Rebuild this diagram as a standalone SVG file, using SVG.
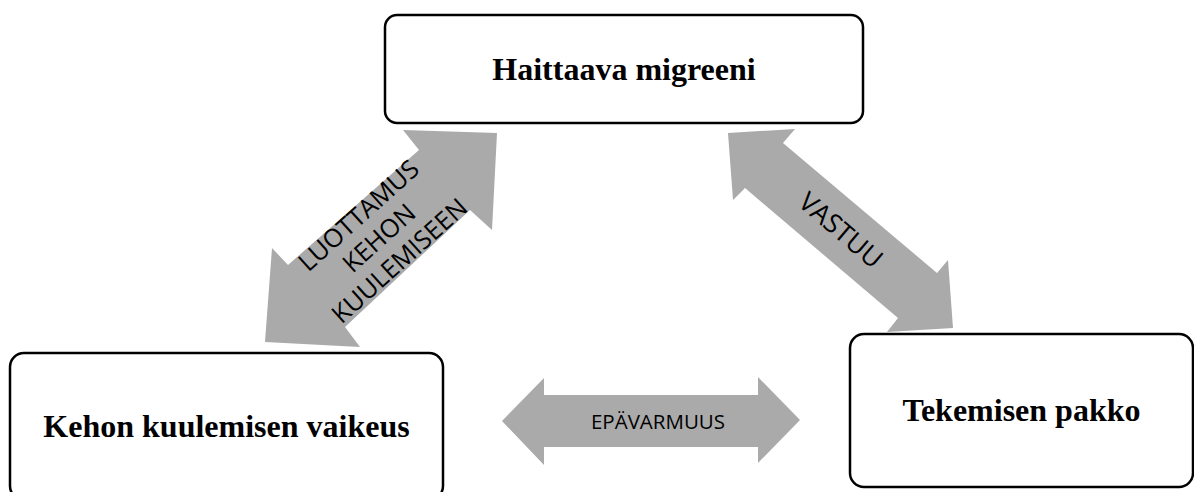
<svg xmlns="http://www.w3.org/2000/svg" width="1194" height="492" viewBox="0 0 1194 492">
<style>
.box{fill:#fff;stroke:#000;stroke-width:2.5}
.bt{font-family:"Liberation Serif","Times New Roman",serif;font-weight:bold;font-size:32px;fill:#000;text-anchor:middle}
.arr{fill:#aaaaaa;stroke:none}
.at{font-family:"Open Sans","Noto Sans",sans-serif;fill:#000;text-anchor:middle}
</style>
<rect width="1194" height="492" fill="#fff"/>
<g id="connectors">
  <g id="arrow-luottamus">
    <polygon class="arr" points="497,133 492,230 470,210 345,327 360,347 265,342 272,248 288,265 419,150 403,130"/>
    <g transform="translate(379,238) rotate(-42)">
      <text class="at" font-size="25.5" x="0" y="-21.5">LUOTTAMUS</text>
      <text class="at" font-size="25.5" x="0" y="9">KEHON</text>
      <text class="at" font-size="25.5" x="0" y="39.5">KUULEMISEEN</text>
    </g>
  </g>
  <g id="arrow-vastuu">
    <polygon class="arr" points="728,133 795,129 783,143 937,273 948,260 953,328 887,332 898,318 745,188 733,200"/>
    <text class="at" font-size="26.5" transform="translate(841,230) rotate(40.5)" x="0" y="9.5">VASTUU</text>
  </g>
  <g id="arrow-epavarmuus">
    <polygon class="arr" points="502,421 544,378 544,395 758,395 758,377 800,420 758,463 758,447 544,447 544,465"/>
    <text class="at" font-size="20.5" x="658" y="428.5">EPÄVARMUUS</text>
  </g>
</g>
<g id="node-haittaava">
  <rect class="box" x="385" y="15" width="478" height="108" rx="12"/>
  <text class="bt" x="624" y="80">Haittaava migreeni</text>
</g>
<g id="node-kehon">
  <rect class="box" x="10" y="353" width="433" height="147" rx="14"/>
  <text class="bt" x="226.5" y="437">Kehon kuulemisen vaikeus</text>
</g>
<g id="node-tekemisen">
  <rect class="box" x="850" y="334" width="343" height="153" rx="14"/>
  <text class="bt" x="1021.5" y="421">Tekemisen pakko</text>
</g>
</svg>
